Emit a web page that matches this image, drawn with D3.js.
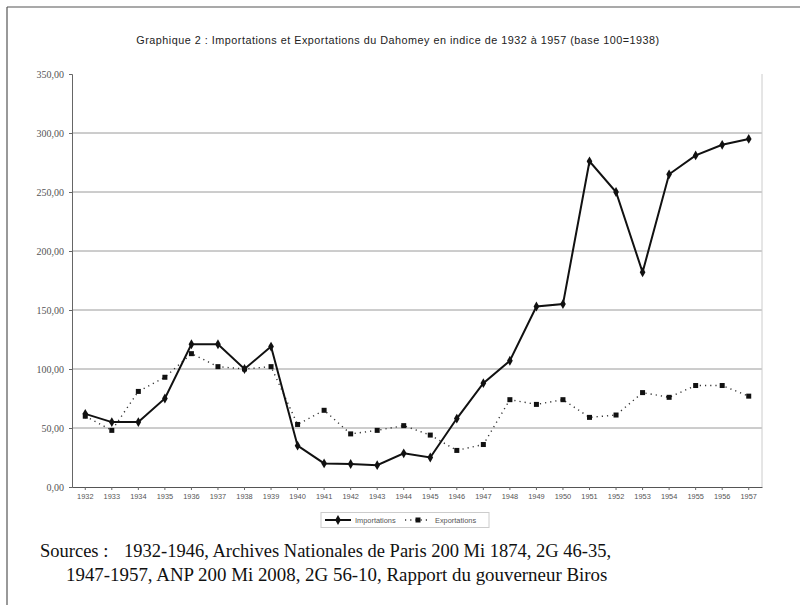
<!DOCTYPE html>
<html>
<head>
<meta charset="utf-8">
<script src="https://cdn.jsdelivr.net/npm/d3@7"></script>
<style>
html,body{margin:0;padding:0;background:#fff;}
svg{display:block;}
</style>
</head>
<body>
<svg id="chart" width="812" height="605"></svg>
<script>
const years = ["1932","1933","1934","1935","1936","1937","1938","1939","1940","1941","1942","1943","1944","1945","1946","1947","1948","1949","1950","1951","1952","1953","1954","1955","1956","1957"];
const importations = [62,55,55,75,121,121,100,119,35,20,19.5,18.5,28.5,25,58,88,107,153,155,276,250,182,265,281,290,295];
const exportations = [60,48,81,93,113,102,100,102,53,65,45,48,52,44,31,36,74,70,74,59,61,80,76,86,86,77];
const yTicks = [0,50,100,150,200,250,300,350];
const titleText = "Graphique 2 : Importations et Exportations du Dahomey en indice de 1932 à 1957 (base 100=1938)";
const sourceLines = ["1932-1946, Archives Nationales de Paris 200 Mi 1874, 2G 46-35,","1947-1957, ANP 200 Mi 2008, 2G 56-10, Rapport du gouverneur Biros"];
const legendLabels = ["Importations","Exportations"];

(function(){
const svg = d3.select("#chart");
const pL = 72, pR = 762, pT = 74, pB = 487;

// frame
svg.append("line").attr("x1",7).attr("y1",7).attr("x2",800).attr("y2",7).attr("stroke","#555").attr("stroke-width",1.2);
svg.append("line").attr("x1",7).attr("y1",7).attr("x2",7).attr("y2",605).attr("stroke","#555").attr("stroke-width",1.2);

const x = d3.scaleBand().domain(years).range([pL,pR]);
const y = d3.scaleLinear().domain([0,350]).range([pB,pT]);
const cx = d => x(d) + x.bandwidth()/2;

// title
svg.append("text").attr("x",398).attr("y",44).attr("text-anchor","middle")
  .attr("font-family","Arial, 'Liberation Sans', sans-serif").attr("font-size",10.8)
  .attr("letter-spacing",0.5).attr("fill","#222")
  .text(titleText);

// gridlines
svg.append("g").selectAll("line").data(yTicks.filter(v=>v>0 && v<350)).join("line")
  .attr("x1",pL).attr("x2",pR).attr("y1",d=>y(d)).attr("y2",d=>y(d))
  .attr("stroke","#9a9a9a").attr("stroke-width",1);
svg.append("line").attr("x1",pR).attr("x2",pR).attr("y1",pT).attr("y2",pB).attr("stroke","#ccc");

// y axis
const yAxis = d3.axisLeft(y).tickValues(yTicks).tickSize(3).tickFormat(d=>d3.format(".2f")(d).replace(".",","));
const gy = svg.append("g").attr("transform",`translate(${pL},0)`).call(yAxis);
gy.select(".domain").attr("stroke","#666");
gy.selectAll(".tick line").attr("stroke","#666");
gy.selectAll("text").attr("font-family","'Liberation Serif', serif").attr("font-size",10).attr("fill","#555").attr("x",-8);

// x axis
const xAxis = d3.axisBottom(x).tickSize(3).tickSizeOuter(0);
const gx = svg.append("g").attr("transform",`translate(0,${pB})`).call(xAxis);
gx.select(".domain").attr("stroke","#555");
gx.selectAll(".tick line").attr("stroke","#666");
gx.selectAll("text").attr("font-family","Arial, sans-serif").attr("font-size",7.4).attr("fill","#555").attr("y",7);

// exports
const line = d3.line().x((d,i)=>cx(years[i])).y(d=>y(d));
svg.append("path").datum(exportations).attr("d",line).attr("fill","none")
  .attr("stroke","#333").attr("stroke-width",1.4).attr("stroke-dasharray","1.2,4");
svg.append("g").selectAll("rect").data(exportations).join("rect")
  .attr("x",(d,i)=>cx(years[i])-2.5).attr("y",d=>y(d)-2.5).attr("width",5).attr("height",5).attr("fill","#111");

// imports
svg.append("path").datum(importations).attr("d",line).attr("fill","none")
  .attr("stroke","#111").attr("stroke-width",2);
svg.append("g").selectAll("path").data(importations).join("path")
  .attr("d",d3.symbol(d3.symbolDiamond,28)).attr("transform",(d,i)=>`translate(${cx(years[i])},${y(d)})`).attr("fill","#111");

// legend
const lg = svg.append("g").attr("transform","translate(321,520)");
lg.append("rect").attr("x",0).attr("y",-7.5).attr("width",168).attr("height",15).attr("fill","#fff").attr("stroke","#ccc");
lg.append("line").attr("x1",4).attr("x2",30).attr("y1",0).attr("y2",0).attr("stroke","#111").attr("stroke-width",2);
lg.append("path").attr("d",d3.symbol(d3.symbolDiamond,28)).attr("transform","translate(17,0)").attr("fill","#111");
lg.append("text").attr("x",34).attr("y",2.5).attr("font-family","Arial, sans-serif").attr("font-size",7.4).attr("fill","#555").text(legendLabels[0]);
lg.append("line").attr("x1",84).attr("x2",110).attr("y1",0).attr("y2",0).attr("stroke","#333").attr("stroke-width",1.4).attr("stroke-dasharray","1.2,4");
lg.append("rect").attr("x",94.5).attr("y",-2.5).attr("width",5).attr("height",5).attr("fill","#111");
lg.append("text").attr("x",114).attr("y",2.5).attr("font-family","Arial, sans-serif").attr("font-size",7.4).attr("fill","#555").text(legendLabels[1]);

// sources
const sf = "'Liberation Serif', 'Times New Roman', serif";
svg.append("text").attr("x",40).attr("y",557).attr("font-family",sf).attr("font-size",18.5).attr("fill","#111").text("Sources :");
svg.append("text").attr("x",124).attr("y",557).attr("font-family",sf).attr("font-size",18.5).attr("fill","#111").text(sourceLines[0]);
svg.append("text").attr("x",66).attr("y",581).attr("font-family",sf).attr("font-size",18.9).attr("fill","#111").text(sourceLines[1]);
})();
</script>
</body>
</html>
